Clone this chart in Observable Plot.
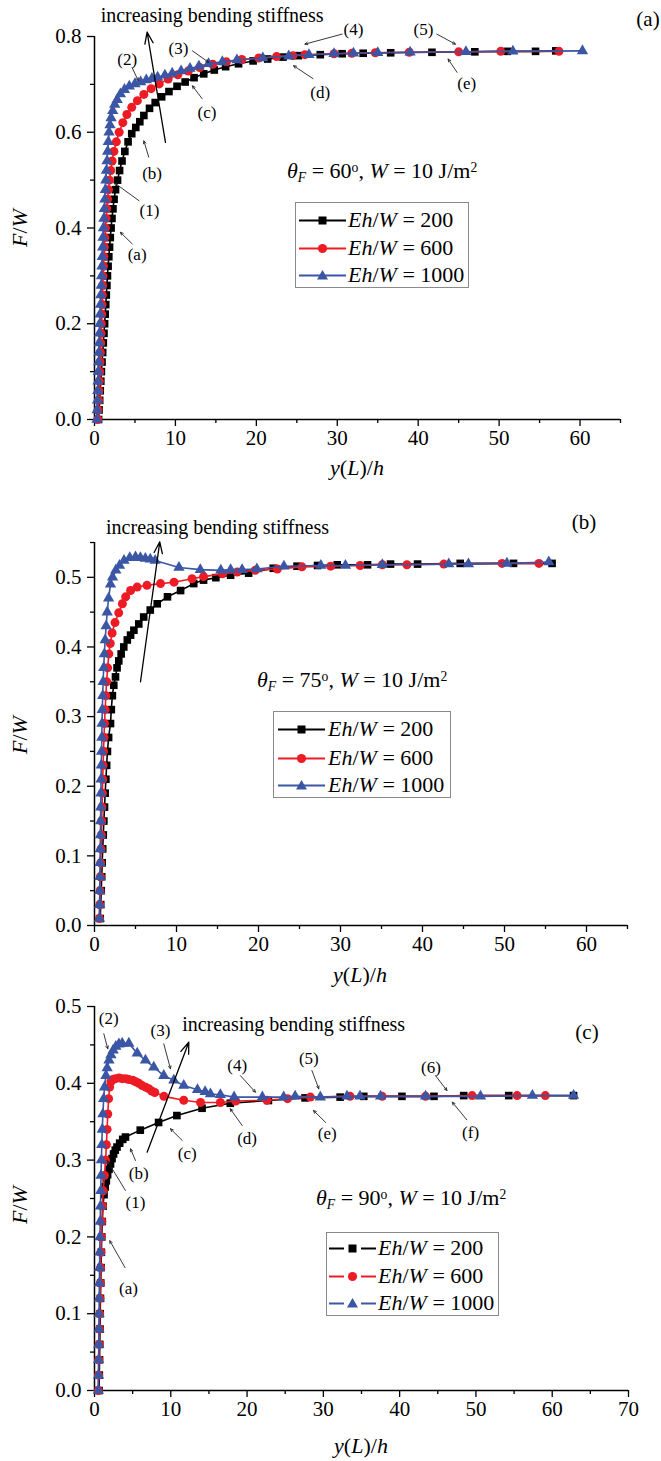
<!DOCTYPE html>
<html><head><meta charset="utf-8">
<script src="https://cdn.jsdelivr.net/npm/d3@7"></script>
<script src="https://cdn.jsdelivr.net/npm/@observablehq/plot@0.6"></script>
<style>
body{margin:0;background:#fff;}
#root{position:relative;width:661px;height:1461px;overflow:hidden;font-family:"Liberation Serif","Times New Roman",serif;color:#000;background:#fff;}
.panel{position:absolute;left:0;}
.lbl{position:absolute;white-space:nowrap;font-size:22px;line-height:1;}
.ctr{transform:translate(-50%,-50%);}
.rot{transform:translate(-50%,-50%) rotate(-90deg);}
.sub{position:relative;top:0.32em;font-size:0.62em;}
.sup{position:relative;top:-0.45em;font-size:0.62em;}
.legend{position:absolute;border:1px solid #8a8a8a;background:#fff;}
.row{position:absolute;left:0;height:26px;display:flex;align-items:center;font-size:22px;white-space:nowrap;}
.row svg{display:block;}
</style>
</head><body>
<div id="root">
  <div id="pa" class="panel" style="top:0px"></div>
  <div id="pb" class="panel" style="top:490px"></div>
  <div id="pc" class="panel" style="top:980px"></div>
</div>
<script>
// ---------------- data ----------------
const colors = {e200: "#000000", e600: "#ed1c24", e1000: "#3a56a5"};
const seriesNames = ["Eh/W = 200", "Eh/W = 600", "Eh/W = 1000"];

// Panel (a): theta_F = 60
const a200 = [[0.5,0],[0.57,0.02],[0.64,0.04],[0.71,0.06],[0.78,0.08],[0.85,0.1],[0.93,0.12],[1.01,0.14],[1.09,0.16],[1.17,0.18],[1.25,0.2],[1.32,0.22],[1.39,0.24],[1.46,0.26],[1.53,0.28],[1.6,0.3],[1.68,0.32],[1.77,0.34],[1.86,0.36],[1.95,0.38],[2.05,0.4],[2.16,0.42],[2.28,0.44],[2.42,0.46],[2.6,0.48],[2.85,0.5],[3.1,0.52],[3.4,0.54],[3.75,0.56],[4.15,0.58],[4.6,0.597],[5.1,0.61],[5.6,0.622],[6.1,0.635],[6.8,0.65],[7.5,0.662],[8.3,0.674],[9.2,0.685],[10.2,0.696],[11.2,0.705],[12.3,0.714],[13.5,0.722],[14.8,0.73],[16.2,0.737],[17.8,0.743],[19.6,0.749],[21.4,0.753],[23.3,0.757],[25.2,0.76],[27.9,0.762],[30.6,0.764],[33.2,0.765],[36.6,0.766],[41.7,0.767],[47,0.768],[51,0.769],[54.5,0.769],[57,0.77]];
const a600 = [[0.4,0],[0.45,0.02],[0.5,0.04],[0.55,0.06],[0.6,0.08],[0.65,0.1],[0.69,0.12],[0.73,0.14],[0.77,0.16],[0.81,0.18],[0.85,0.2],[0.89,0.22],[0.93,0.24],[0.97,0.26],[1.01,0.28],[1.05,0.3],[1.1,0.32],[1.16,0.34],[1.22,0.36],[1.28,0.38],[1.35,0.4],[1.43,0.42],[1.52,0.44],[1.61,0.46],[1.72,0.48],[1.85,0.5],[2.0,0.52],[2.18,0.54],[2.4,0.56],[2.7,0.58],[3.05,0.6],[3.5,0.62],[4.0,0.637],[4.6,0.652],[5.3,0.666],[6.1,0.679],[7.0,0.691],[8.0,0.701],[9.1,0.711],[10.3,0.72],[11.6,0.728],[13.0,0.735],[14.6,0.742],[16.3,0.747],[18.2,0.752],[20.3,0.755],[22.5,0.758],[24.5,0.76],[26,0.762],[29.6,0.764],[31.8,0.765],[34.7,0.766],[38.9,0.767],[45,0.768],[50.2,0.769],[57.4,0.769]];
const a1000 = [[0.3,0],[0.33,0.02],[0.37,0.04],[0.4,0.06],[0.44,0.08],[0.47,0.1],[0.51,0.12],[0.54,0.14],[0.58,0.16],[0.61,0.18],[0.65,0.2],[0.69,0.22],[0.74,0.24],[0.78,0.26],[0.83,0.28],[0.87,0.3],[0.92,0.32],[0.96,0.34],[1.01,0.36],[1.05,0.38],[1.1,0.4],[1.16,0.42],[1.22,0.44],[1.28,0.46],[1.34,0.48],[1.4,0.5],[1.47,0.52],[1.55,0.54],[1.63,0.56],[1.71,0.58],[1.8,0.6],[1.92,0.615],[2.05,0.63],[2.25,0.645],[2.5,0.658],[2.8,0.668],[3.2,0.68],[3.7,0.689],[4.3,0.696],[5.0,0.701],[5.7,0.705],[6.4,0.709],[7.1,0.712],[7.8,0.715],[8.7,0.719],[9.6,0.723],[10.7,0.728],[11.8,0.733],[12.9,0.738],[14.1,0.743],[15.8,0.747],[17.6,0.751],[20.8,0.755],[24,0.759],[26.5,0.762],[29.6,0.764],[32,0.765],[35,0.766],[39,0.767],[45.9,0.768],[51.7,0.769],[60.3,0.77]];

// Panel (b): theta_F = 75
const b200 = [[0.7,0.01],[0.76,0.03],[0.82,0.05],[0.88,0.07],[0.94,0.09],[1.0,0.11],[1.07,0.13],[1.14,0.15],[1.22,0.17],[1.3,0.19],[1.39,0.21],[1.48,0.23],[1.58,0.25],[1.72,0.27],[1.95,0.29],[2.05,0.31],[2.18,0.33],[2.35,0.345],[2.56,0.357],[2.75,0.37],[2.96,0.38],[3.25,0.39],[3.57,0.4],[4.0,0.41],[4.4,0.417],[4.8,0.424],[5.4,0.433],[6.0,0.443],[6.8,0.453],[7.65,0.462],[8.9,0.472],[10.5,0.481],[12.1,0.491],[13.3,0.496],[14.8,0.4995],[16.6,0.503],[18.8,0.506],[21.8,0.513],[24.7,0.516],[27.2,0.517],[29.6,0.518],[33.3,0.518],[36.1,0.519],[39.4,0.519],[44.6,0.52],[51.1,0.52],[55.8,0.52]];
const b600 = [[0.6,0.01],[0.64,0.03],[0.68,0.05],[0.72,0.07],[0.76,0.09],[0.8,0.11],[0.84,0.13],[0.88,0.15],[0.92,0.17],[0.96,0.19],[1.0,0.21],[1.05,0.23],[1.1,0.25],[1.16,0.27],[1.22,0.29],[1.3,0.31],[1.38,0.33],[1.48,0.35],[1.6,0.37],[1.75,0.39],[1.92,0.405],[2.15,0.42],[2.5,0.435],[2.95,0.449],[3.4,0.462],[3.8,0.472],[4.4,0.481],[5.2,0.486],[6.4,0.4885],[8.05,0.491],[9.7,0.493],[11.9,0.498],[13.3,0.501],[15.6,0.505],[17.4,0.5075],[19.6,0.51],[22.3,0.512],[25.3,0.515],[28.8,0.516],[32.4,0.517],[35.1,0.518],[38.1,0.518],[42.6,0.519],[49.7,0.52],[54.2,0.52]];
const b1000 = [[0.6,0.01],[0.62,0.03],[0.64,0.05],[0.66,0.07],[0.68,0.09],[0.7,0.11],[0.72,0.13],[0.74,0.15],[0.76,0.17],[0.78,0.19],[0.8,0.21],[0.83,0.23],[0.86,0.25],[0.89,0.27],[0.92,0.29],[0.95,0.31],[1.0,0.33],[1.05,0.35],[1.12,0.37],[1.2,0.39],[1.3,0.41],[1.42,0.43],[1.55,0.45],[1.72,0.47],[1.95,0.49],[2.2,0.5],[2.6,0.51],[3.05,0.517],[3.6,0.524],[4.3,0.528],[5.0,0.529],[5.6,0.528],[6.2,0.527],[6.8,0.526],[7.4,0.524],[10.3,0.514],[12.9,0.511],[15.4,0.51],[16.6,0.511],[18.0,0.511],[19.8,0.512],[23.1,0.516],[27.6,0.517],[30.6,0.517],[35.1,0.518],[43.2,0.519],[45.6,0.519],[50.3,0.52],[55.4,0.522]];

// Panel (c): theta_F = 90
const c200 = [[0.6,0],[0.63,0.02],[0.66,0.04],[0.69,0.06],[0.72,0.08],[0.75,0.1],[0.78,0.12],[0.82,0.14],[0.86,0.16],[0.9,0.18],[0.95,0.2],[1.02,0.22],[1.12,0.24],[1.25,0.255],[1.4,0.265],[1.55,0.273],[1.72,0.281],[1.9,0.288],[2.1,0.295],[2.3,0.302],[2.5,0.308],[2.72,0.313],[2.95,0.317],[3.3,0.322],[3.7,0.327],[4.06,0.33],[6.0,0.339],[8.4,0.349],[10.8,0.358],[14.1,0.3675],[17.8,0.374],[22.8,0.3776],[27.6,0.381],[32.2,0.382],[35.3,0.383],[40.3,0.383],[44.5,0.383],[48.4,0.384],[54.3,0.384],[62.8,0.384]];
const c600 = [[0.5,0],[0.53,0.02],[0.56,0.04],[0.6,0.06],[0.64,0.08],[0.68,0.1],[0.72,0.12],[0.76,0.14],[0.8,0.16],[0.85,0.18],[0.9,0.2],[0.96,0.22],[1.04,0.24],[1.14,0.26],[1.3,0.28],[1.45,0.3],[1.56,0.32],[1.65,0.34],[1.74,0.36],[1.85,0.38],[1.98,0.395],[2.15,0.402],[2.4,0.405],[2.75,0.406],[3.2,0.407],[3.63,0.406],[4.1,0.406],[4.5,0.405],[5.0,0.404],[5.4,0.402],[5.8,0.4],[6.25,0.397],[6.7,0.395],[7.1,0.393],[7.5,0.39],[7.9,0.388],[9.1,0.383],[11.7,0.378],[13.9,0.375],[16.5,0.375],[18.5,0.377],[22.6,0.378],[25.3,0.38],[28.3,0.382],[33.5,0.383],[37.7,0.383],[43.4,0.383],[49.5,0.384],[55.4,0.384],[59.1,0.384]];
const c1000 = [[0.5,0],[0.52,0.02],[0.54,0.04],[0.56,0.06],[0.58,0.08],[0.6,0.1],[0.62,0.12],[0.64,0.14],[0.66,0.16],[0.69,0.18],[0.72,0.2],[0.75,0.22],[0.78,0.24],[0.82,0.26],[0.86,0.28],[0.9,0.3],[0.96,0.32],[1.02,0.34],[1.1,0.36],[1.2,0.38],[1.32,0.395],[1.5,0.41],[1.66,0.42],[1.9,0.43],[2.15,0.437],[2.45,0.443],[2.8,0.448],[3.2,0.451],[3.63,0.452],[4.5,0.452],[5.6,0.439],[6.68,0.43],[7.77,0.421],[9.08,0.41],[10.4,0.404],[11.7,0.397],[13.5,0.3915],[14.5,0.389],[15.2,0.386],[16.5,0.385],[18.3,0.382],[22.0,0.382],[24.8,0.382],[26.3,0.383],[29.6,0.382],[33.1,0.383],[34.8,0.383],[37.5,0.383],[43.4,0.383],[50.6,0.383],[57.4,0.384],[62.8,0.384]];

// ticks
const xMajorAB = [0,10,20,30,40,50,60];
const xMinorAB = [5,15,25,35,45,55,65];
const xMajorC = [0,10,20,30,40,50,60,70];
const xMinorC = [5,15,25,35,45,55,65];
const yMajorA = [0,0.2,0.4,0.6,0.8];
const yMinorA = [0.1,0.3,0.5,0.7];
const yMajorBC = [0,0.1,0.2,0.3,0.4,0.5];
const yMinorB = [0.05,0.15,0.25,0.35,0.45,0.55];
const yMinorC = [0.05,0.15,0.25,0.35,0.45];

// annotations (label text, x, y) and callout arrows [x1,y1,x2,y2]
const heading = "increasing bending stiffness";
const labelsA = [{t:"(2)",x:4.04,y:0.751},{t:"(3)",x:10.37,y:0.774},{t:"(4)",x:32.0,y:0.815},{t:"(5)",x:40.65,y:0.815},{t:"(e)",x:46.0,y:0.701},{t:"(d)",x:27.9,y:0.683},{t:"(c)",x:13.9,y:0.642},{t:"(b)",x:7.12,y:0.513},{t:"(1)",x:6.79,y:0.436},{t:"(a)",x:5.27,y:0.344}];
const arrowsA = [[4.65,0.735,5.4,0.708],[12.1,0.770,14.1,0.746],[30.6,0.805,26.0,0.784],[42.3,0.805,44.6,0.784],[44.8,0.725,43.7,0.753],[27.0,0.712,24.6,0.739],[13.3,0.670,12.1,0.697],[6.7,0.548,6.1,0.582],[5.5,0.457,2.4,0.495],[4.65,0.367,3.2,0.391]];
const bigA = [8.77,0.579,6.5,0.809], headA = [14.53,0.843], tagA = ["(a)",68.4,0.837];

const labelsB = [];
const arrowsB = [];
const bigB = [5.61,0.35,7.96,0.551], headB = [15.0,0.572], tagB = ["(b)",59.7,0.579];

const labelsC = [{t:"(2)",x:1.87,y:0.484},{t:"(3)",x:8.65,y:0.469},{t:"(4)",x:18.7,y:0.423},{t:"(5)",x:28.09,y:0.432},{t:"(6)",x:44.1,y:0.421},{t:"(d)",x:20.0,y:0.3277},{t:"(e)",x:30.5,y:0.334},{t:"(f)",x:49.3,y:0.336},{t:"(c)",x:12.15,y:0.308},{t:"(b)",x:5.8,y:0.282},{t:"(1)",x:5.37,y:0.245},{t:"(a)",x:4.46,y:0.133}];
const arrowsC = [[1.22,0.4645,1.74,0.4449],[9.08,0.4514,9.96,0.4189],[19.13,0.410,21.1,0.3884],[28.5,0.4167,29.4,0.3928],[44.7,0.410,46.2,0.3906],[19.36,0.345,17.8,0.3668],[30.3,0.349,28.7,0.3646],[48.8,0.3525,46.9,0.3754],[11.5,0.3255,9.96,0.3408],[5.37,0.2995,4.72,0.3147],[4.06,0.2604,1.66,0.2995],[4.0,0.16,2.0,0.195]];
const bigC = [6.9,0.3103,12.36,0.4535], headC = [26.1,0.4766], tagC = ["(c)",64.56,0.4666];

// ---------------- drawing ----------------
function seriesMarks(data, color, symbol, r) {
  return [
    Plot.line(data, {x: d => d[0], y: d => d[1], stroke: color, strokeWidth: 1.6}),
    Plot.dot(data, {x: d => d[0], y: d => d[1], symbol, r, fill: color})
  ];
}

function panel(c) {
  return Plot.plot({
    width: 661, height: c.height,
    marginTop: c.mt, marginBottom: c.mb, marginLeft: 94, marginRight: c.mr,
    style: {fontFamily: "'Liberation Serif','Times New Roman',serif", fontSize: "21px", color: "#000", background: "transparent", overflow: "visible"},
    x: {domain: c.xDomain},
    y: {domain: c.yDomain},
    marks: [
      Plot.axisX({ticks: c.xMinor, tickSize: 4, tickFormat: () => "", label: null, strokeWidth: 1.3}),
      Plot.axisX({ticks: c.xMajor, tickSize: 7, tickPadding: 4, tickFormat: d => String(d), label: null, strokeWidth: 1.3}),
      Plot.axisY({ticks: c.yMinor, tickSize: 4, tickFormat: () => "", label: null, strokeWidth: 1.3}),
      Plot.axisY({ticks: c.yMajor, tickSize: 7, tickPadding: 6, tickFormat: d3.format(".1f"), label: null, strokeWidth: 1.3}),
      Plot.ruleX([c.xDomain[0]], {strokeWidth: 1.5}),
      Plot.ruleY([c.yDomain[0]], {strokeWidth: 1.5}),
      ...seriesMarks(c.s200, colors.e200, "square", 4.3),
      ...seriesMarks(c.s600, colors.e600, "circle", 4.5),
      ...seriesMarks(c.s1000, colors.e1000, "triangle", 4.2),
      Plot.arrow(c.arrows, {x1: d => d[0], y1: d => d[1], x2: d => d[2], y2: d => d[3], stroke: "#222", strokeWidth: 0.9, headLength: 5, headAngle: 50}),
      Plot.text(c.labels, {x: "x", y: "y", text: "t", fontSize: 17}),
      Plot.arrow([c.big], {x1: d => d[0], y1: d => d[1], x2: d => d[2], y2: d => d[3], stroke: "#000", strokeWidth: 1.3, headLength: 14, headAngle: 40}),
      Plot.text([c.head], {x: d => d[0], y: d => d[1], text: () => heading, fontSize: 20}),
      Plot.text([c.tag], {x: d => d[1], y: d => d[2], text: d => d[0], fontSize: 21})
    ]
  });
}

document.getElementById("pa").append(panel({height: 490, mt: 36, mb: 71, mr: 41, xDomain: [0,65], yDomain: [0,0.8],
  xMajor: xMajorAB, xMinor: xMinorAB, yMajor: yMajorA, yMinor: yMinorA, s200: a200, s600: a600, s1000: a1000,
  labels: labelsA, arrows: arrowsA, big: bigA, head: headA, tag: tagA}));
document.getElementById("pb").append(panel({height: 490, mt: 52, mb: 55, mr: 34, xDomain: [0,65], yDomain: [0,0.55],
  xMajor: xMajorAB, xMinor: xMinorAB, yMajor: yMajorBC, yMinor: yMinorB, s200: b200, s600: b600, s1000: b1000,
  labels: labelsB, arrows: arrowsB, big: bigB, head: headB, tag: tagB}));
document.getElementById("pc").append(panel({height: 481, mt: 26, mb: 71, mr: 33, xDomain: [0,70], yDomain: [0,0.5],
  xMajor: xMajorC, xMinor: xMinorC, yMajor: yMajorBC, yMinor: yMinorC, s200: c200, s600: c600, s1000: c1000,
  labels: labelsC, arrows: arrowsC, big: bigC, head: headC, tag: tagC}));

// ---------------- text overlays ----------------
const root = document.getElementById("root");
function addHTML(html) { const t = document.createElement("div"); t.innerHTML = html; while (t.firstChild) root.appendChild(t.firstChild); }

const xLabelY = [468, 975, 1446], xLabelX = [357, 360, 361];
const yLabelY = [228, 735, 1205];
const xTitle = '<i>y</i>(<i>L</i>)/<i>h</i>';
const yTitle = '<i>F</i>/<i>W</i>';
xLabelY.forEach((y, i) => addHTML(`<div class="lbl ctr" style="left:${xLabelX[i]}px;top:${y}px">${xTitle}</div>`));
yLabelY.forEach(y => addHTML(`<div class="lbl rot" style="left:20px;top:${y}px">${yTitle}</div>`));

const angles = ["60", "75", "90"];
const notePos = [[287, 160], [257, 669], [316, 1187]];
angles.forEach((a, i) => addHTML(`<div class="lbl" style="left:${notePos[i][0]}px;top:${notePos[i][1]}px"><i>θ</i><span class="sub"><i>F</i></span> = ${a}<span class="sup">o</span>, <i>W</i> = 10 J/m<span class="sup">2</span></div>`));

function sample(color, sym, gap) {
  let m;
  if (sym === "square") m = `<rect x="19.5" y="6.5" width="8" height="8" fill="${color}"/>`;
  else if (sym === "circle") m = `<circle cx="23.5" cy="10.5" r="4.6" fill="${color}"/>`;
  else m = `<path d="M23.5 5 L29 14.5 L18 14.5 Z" fill="${color}"/>`;
  const line = gap
    ? `<line x1="0" y1="10.5" x2="15" y2="10.5" stroke="${color}" stroke-width="2"/><line x1="32" y1="10.5" x2="47" y2="10.5" stroke="${color}" stroke-width="2"/>`
    : `<line x1="0" y1="10.5" x2="47" y2="10.5" stroke="${color}" stroke-width="2"/>`;
  return `<svg width="47" height="21">${line}${m}</svg>`;
}
const legendBoxes = [
  {left: 295, top: 202, w: 172, h: 84, rows: [17, 45, 72], lx: 3, tx: 52, gap: false},
  {left: 273, top: 711, w: 176, h: 85, rows: [17, 46, 73], lx: 4, tx: 54, gap: false},
  {left: 326, top: 1232, w: 171, h: 82, rows: [15, 43, 70], lx: 2, tx: 51, gap: true}
];
const legendSyms = ["square", "circle", "triangle"];
const legendColors = [colors.e200, colors.e600, colors.e1000];
const legendVals = ["200", "600", "1000"];
legendBoxes.forEach(b => {
  let rows = "";
  b.rows.forEach((ry, k) => {
    rows += `<div class="row" style="top:${ry - 13}px;left:${b.lx}px">${sample(legendColors[k], legendSyms[k], b.gap)}<span style="margin-left:${b.tx - b.lx - 47}px"><i>Eh</i>/<i>W</i> = ${legendVals[k]}</span></div>`;
  });
  addHTML(`<div class="legend" style="left:${b.left}px;top:${b.top}px;width:${b.w}px;height:${b.h}px">${rows}</div>`);
});
</script>
</body></html>
